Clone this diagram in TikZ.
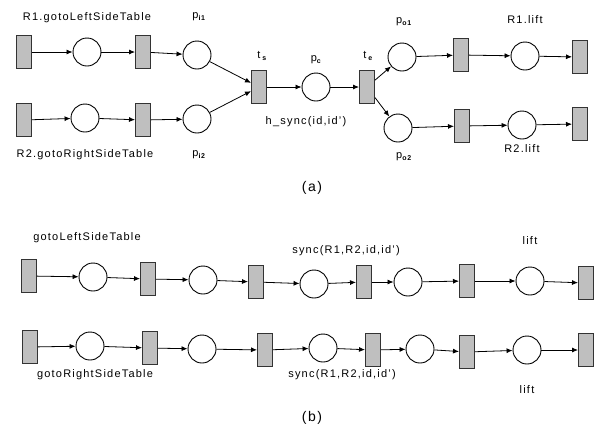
\documentclass[tikz,border=0pt]{standalone}
\usepackage{fontspec}
\setmainfont[LetterSpace=11]{Liberation Sans}
\usetikzlibrary{arrows.meta}

\tikzset{
    trans/.style={draw=black!80,fill=black!25,line width=1pt,minimum width=15pt,minimum height=33pt,inner sep=0pt},
    place/.style={draw,circle,line width=0.9pt,minimum size=28pt,inner sep=0pt},
    arc/.style={-{Latex[length=6pt,width=5pt]},line width=0.8pt},
    lbl/.style={inner sep=0pt,font=\fontsize{11}{13}\selectfont}
}
\newcommand{\pidx}[2]{#1\textsubscript{\fontsize{7}{8}\selectfont\bfseries #2}}

\begin{document}
\begin{tikzpicture}[x=1pt,y=-1pt]
    \useasboundingbox (0,0) rectangle (609,429);

    % (a) upper branch
    \node [trans] (t1) at (24,52) {};
    \node [place] (p1) at (87,52) {};
    \node [trans] (t2) at (143,52) {};
    \node [place] (pi1) at (197,55) {};

    % (a) lower branch
    \node [trans] (t3) at (24,120) {};
    \node [place] (p2) at (85,118) {};
    \node [trans] (t4) at (143,120) {};
    \node [place] (pi2) at (197,119) {};

    % Synchronisation
    \node [trans] (ts) at (259,87) {};
    \node [place] (pc) at (316,87) {};
    \node [trans] (te) at (367,87) {};

    % After the synchronisation
    \node [place] (po1) at (402,57) {};
    \node [trans] (t5) at (461,55) {};
    \node [place] (p5) at (525,56) {};
    \node [trans] (t6) at (580,57) {};
    \node [place] (po2) at (398,128) {};
    \node [trans] (t7) at (462,126) {};
    \node [place] (p6) at (522,125) {};
    \node [trans] (t8) at (580,124) {};

    \foreach \a/\b in {t1/p1,p1/t2,t2/pi1,pi1/ts,t3/p2,p2/t4,t4/pi2,pi2/ts,
                       ts/pc,pc/te,te/po1,po1/t5,t5/p5,p5/t6,te/po2,po2/t7,t7/p6,p6/t8} {
        \draw [arc] (\a) -- (\b);
    }

    % Labels of (a)
    \node [lbl] (l1) at (87,18) {R1.gotoLeftSideTable};
    \node [lbl] (l2) at (85,155) {R2.gotoRightSideTable};
    \node [lbl] (l3) at (199,17) {\pidx{p}{i1}};
    \node [lbl] (l4) at (199,155) {\pidx{p}{i2}};
    \node [lbl] (l5) at (262,56) {t\,\pidx{}{s}};
    \node [lbl] (l6) at (316,60) {\pidx{p}{c}};
    \node [lbl] (l7) at (368,56) {t\,\pidx{}{e}};
    \node [lbl] (l8) at (306,122) {h\_sync(id,id')};
    \node [lbl] (l9) at (404,22) {\pidx{p}{o1}};
    \node [lbl] (l10) at (404,157) {\pidx{p}{o2}};
    \node [lbl] (l11) at (525,20) {R1.lift};
    \node [lbl] (l12) at (522,149) {R2.lift};
    \node [inner sep=0pt,font=\fontsize{14}{16}\selectfont] (capa) at (312,188) {(a)};

    % (b) two parallel nets
    \foreach \i/\x/\y/\s in {1/29/276/trans,2/93/277/place,3/148/279/trans,4/203/280/place,
                             5/256/282/trans,6/314/284/place,7/364/282/trans,8/408/282/place,
                             9/467/281/trans,10/530/281/place,11/586/283/trans} {
        \node [\s] (u\i) at (\x,\y) {};
    }
    \foreach \i/\x/\y/\s in {1/30/347/trans,2/90/346/place,3/150/348/trans,4/202/349/place,
                             5/265/350/trans,6/323/348/place,7/373/350/trans,8/420/349/place,
                             9/467/352/trans,10/527/350/place,11/586/350/trans} {
        \node [\s] (d\i) at (\x,\y) {};
    }
    \foreach \i in {1,...,10} {
        \pgfmathtruncatemacro{\j}{\i+1}
        \draw [arc] (u\i) -- (u\j);
        \draw [arc] (d\i) -- (d\j);
    }

    % Labels of (b)
    \node [lbl] (m1) at (87,238) {gotoLeftSideTable};
    \node [lbl] (m2) at (95,375) {gotoRightSideTable};
    \node [lbl] (m3) at (346,251) {sync(R1,R2,id,id')};
    \node [lbl] (m4) at (342,375) {sync(R1,R2,id,id')};
    \node [lbl] (m5) at (530,241) {lift};
    \node [lbl] (m6) at (527,390) {lift};
    \node [inner sep=0pt,font=\fontsize{14}{16}\selectfont] (capb) at (312,418) {(b)};
\end{tikzpicture}
\end{document}
